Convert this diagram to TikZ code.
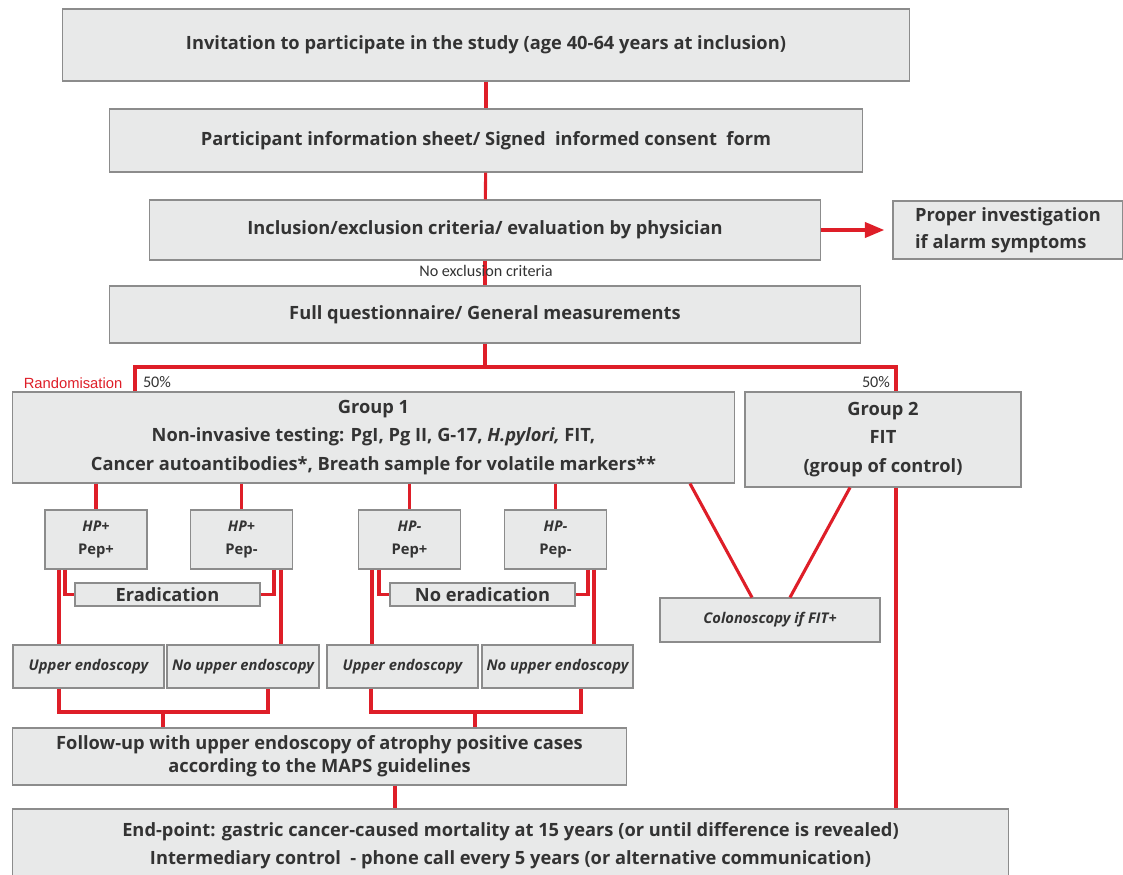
\documentclass[tikz,border=0pt]{standalone}
\usepackage{fontspec}
\setmainfont{Open Sans}
\newfontfamily\notefont{Carlito}
\newfontfamily\randfont{Liberation Sans}
\usetikzlibrary{arrows}
\definecolor{boxgray}{RGB}{232,233,233}
\definecolor{edgegray}{RGB}{140,140,140}
\definecolor{linkred}{RGB}{222,30,40}

\begin{document}
\begin{tikzpicture}[x=0.025cm,y=-0.025cm,>=triangle 45,
                    font=\bfseries\fontsize{13}{20}\selectfont]
  \tikzstyle{box}=[draw=edgegray,fill=boxgray,line width=0.8pt,align=center,
                   text=black!80,inner sep=2pt]
  \tikzstyle{link}=[draw=linkred,line width=2.2pt]
  \tikzstyle{leaf}=[box,font=\bfseries\itshape\fontsize{10.5}{17}\selectfont]
  \tikzstyle{note}=[font=\notefont\fontsize{11.5}{12}\selectfont,text=black!80]

  \useasboundingbox (0,0) rectangle (1123,874);

  \node[box,minimum width=21.15cm,minimum height=1.8cm]   (inv)  at (486,45)
        {Invitation to participate in the study (age 40-64 years at inclusion)};
  \node[box,minimum width=18.8cm,minimum height=1.575cm]  (info) at (486,140.5)
        {Participant information sheet/ Signed\ \ informed consent\ \ form};
  \node[box,minimum width=16.75cm,minimum height=1.5cm]   (incl) at (485,230)
        {Inclusion/exclusion criteria/ evaluation by physician};
  \node[box,minimum width=5.75cm,minimum height=1.45cm,align=left,
        font=\bfseries\fontsize{13}{19}\selectfont] (proper) at (1008,230)
        {Proper investigation\\if alarm symptoms};
  \node[box,minimum width=18.75cm,minimum height=1.425cm] (full) at (485,314.5)
        {Full questionnaire/ General measurements};
  \node[box,minimum width=18.025cm,minimum height=2.275cm] (g1) at (373.5,437.5)
        {Group 1\\Non-invasive testing: PgI, Pg II, G-17, \textit{H.pylori,} FIT,\\
         Cancer autoantibodies*, Breath sample for volatile markers**};
  \node[box,minimum width=6.9cm,minimum height=2.375cm]   (g2) at (883,439.5)
        {Group 2\\FIT\\(group of control)};

  \node[leaf,minimum width=2.55cm,minimum height=1.475cm] (hp1) at (96,539.5)    {HP+\\\upshape Pep+};
  \node[leaf,minimum width=2.55cm,minimum height=1.475cm] (hp2) at (241.5,539.5) {HP+\\\upshape Pep-};
  \node[leaf,minimum width=2.55cm,minimum height=1.475cm] (hp3) at (409.5,539.5) {HP-\\\upshape Pep+};
  \node[leaf,minimum width=2.55cm,minimum height=1.475cm] (hp4) at (555.5,539.5) {HP-\\\upshape Pep-};

  \node[box,minimum width=4.625cm,minimum height=0.575cm] (erad)   at (167.5,594.5) {Eradication};
  \node[box,minimum width=4.625cm,minimum height=0.575cm] (noerad) at (482.5,594.5) {No eradication};

  \node[leaf,minimum width=3.775cm,minimum height=1.075cm] (ue1)  at (88.5,666.5)  {Upper endoscopy};
  \node[leaf,minimum width=3.8cm,minimum height=1.075cm]   (nue1) at (243,666.5)   {No upper endoscopy};
  \node[leaf,minimum width=3.775cm,minimum height=1.075cm] (ue2)  at (402.5,666.5) {Upper endoscopy};
  \node[leaf,minimum width=3.775cm,minimum height=1.075cm] (nue2) at (557.5,666.5) {No upper endoscopy};
  \node[leaf,minimum width=5.5cm,minimum height=1.1cm]     (colo) at (770,620)     {Colonoscopy if FIT+};

  \node[box,minimum width=15.325cm,minimum height=1.425cm,font=\bfseries\fontsize{13}{16.5}\selectfont]
        (fu) at (319.5,756.5)
        {Follow-up with upper endoscopy of atrophy positive cases\\according to the MAPS guidelines};
  \node[box,minimum width=24.875cm,minimum height=1.85cm] (end) at (510.5,846)
        {End-point: gastric cancer-caused mortality at 15 years (or until difference is revealed)\\
         Intermediary control\ \ - phone call every 5 years (or alternative communication)};

  % main line
  \coordinate (rand) at (485,367);
  \coordinate (j1) at (163,712);
  \coordinate (j2) at (475,712);
  \draw[link] (inv) -- (info);
  \draw[link] (info) -- (incl);
  \draw[link] (incl) -- (full);
  \draw[link,->,shorten >=6pt] (incl) -- (proper);
  \node[note] (noex) at (486,271) {No exclusion criteria};

  % randomisation
  \draw[link] (full) -- (rand);
  \draw[link] (g1.north -| 135,0) |- (rand) -| (g2.north -| 896,0);
  \draw[link] (g2.south -| 896,0) -- (end.north -| 896,0);
  \node[note,font=\randfont\fontsize{10.5}{12}\selectfont,text=linkred] (randlbl) at (73,383) {Randomisation};
  \node[note] (pc1) at (157,382) {50\%};
  \node[note] (pc2) at (876,382) {50\%};

  % group 1 branches
  \foreach \h in {hp1,hp2,hp3,hp4}
    \draw[link] (g1.south -| \h.north) -- (\h.north);
  \draw[link] (hp1.south -| 59,0)  -- (ue1.north -| 59,0);
  \draw[link] (hp1.south -| 65,0)  |- (erad.west);
  \draw[link] (hp2.south -| 274,0) |- (erad.east);
  \draw[link] (hp2.south -| 281,0) -- (nue1.north -| 281,0);
  \draw[link] (hp3.south -| 372,0) -- (ue2.north -| 372,0);
  \draw[link] (hp3.south -| 379,0) |- (noerad.west);
  \draw[link] (hp4.south -| 588,0) |- (noerad.east);
  \draw[link] (hp4.south -| 594,0) -- (nue2.north -| 594,0);

  % colonoscopy
  \draw[link] (g1.south -| 690,0) -- (colo.north -| 752,0);
  \draw[link] (g2.south -| 850,0) -- (colo.north -| 790,0);

  % follow-up
  \draw[link] (ue1.south -| 59,0) |- (j1) -| (nue1.south -| 268,0);
  \draw[link] (ue2.south -| 371,0) |- (j2) -| (nue2.south -| 581,0);
  \draw[link] (j1) -- (fu.north -| j1);
  \draw[link] (j2) -- (fu.north -| j2);
  \draw[link] (fu.south -| 395,0) -- (end.north -| 395,0);
\end{tikzpicture}
\end{document}
